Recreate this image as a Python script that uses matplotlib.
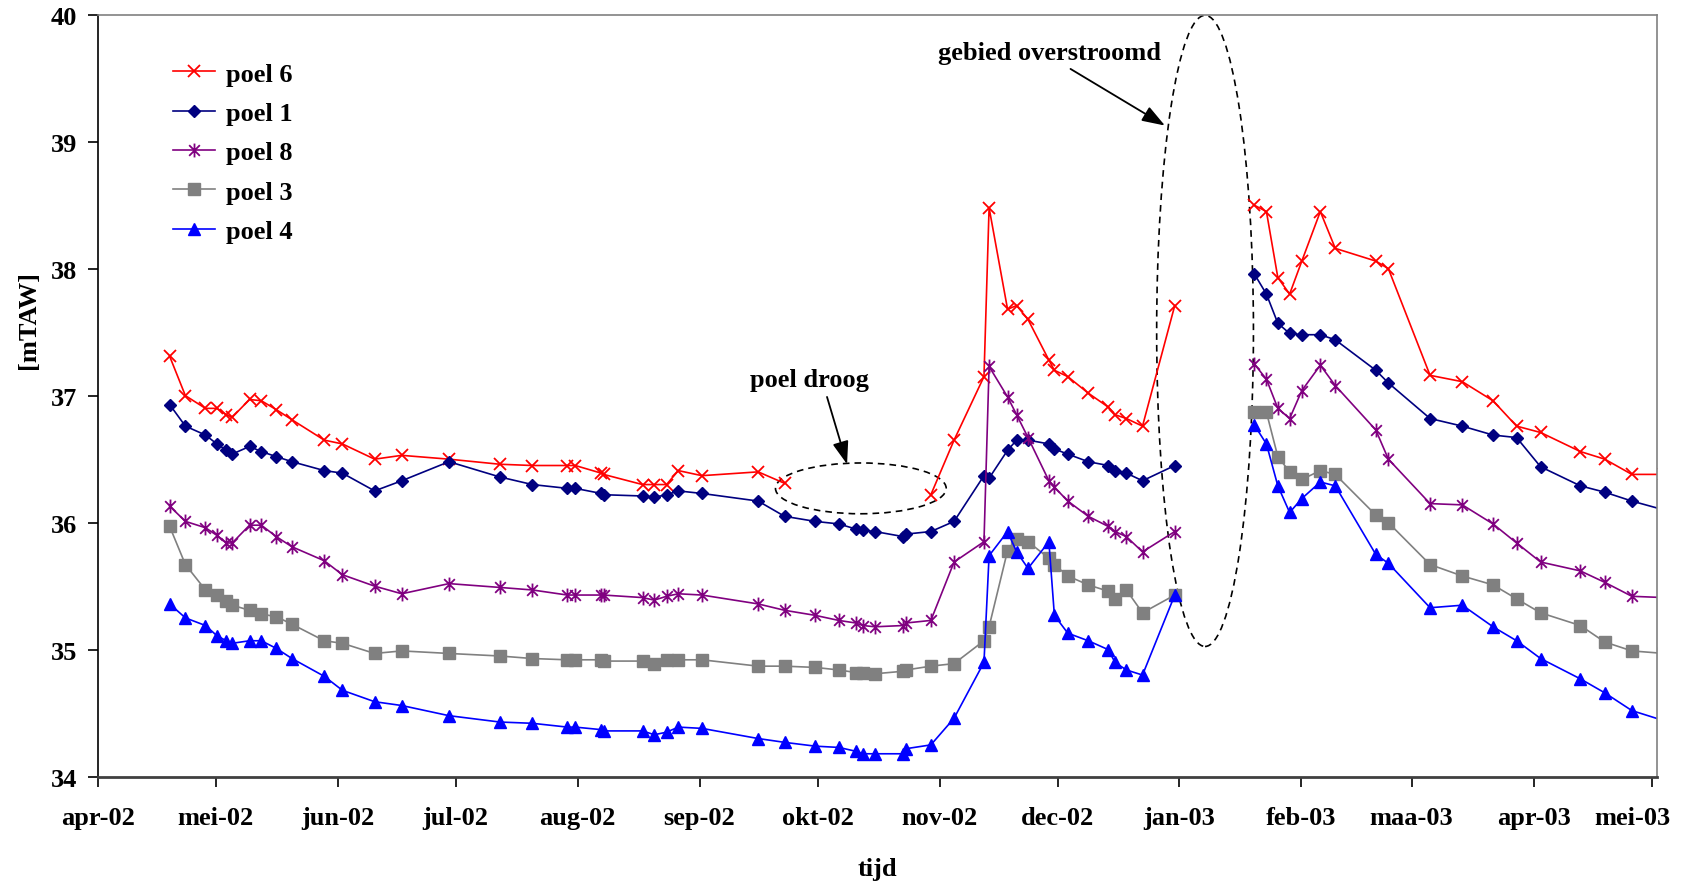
import numpy as np
import pandas as pd
import matplotlib
matplotlib.use("Agg")
import matplotlib.pyplot as plt
import matplotlib.dates as mdates
import matplotlib.transforms as mtransforms
from matplotlib.patches import Ellipse
from matplotlib.path import Path

plt.rcParams['font.family'] = ['Liberation Serif', 'DejaVu Serif']
plt.rcParams['font.weight'] = 'bold'

# meetdagen, in dagen na 1 april 2002 (NaN-rij = periode overstroomd)
dagen = [18.3, 22.3, 27.4, 30.3, 32.7, 34.2, 38.6, 41.6, 45.4, 49.4,
         57.6, 62.2, 70.4, 77.3, 89.3, 102.2, 110.5, 119.4, 121.4, 128.0,
         128.6, 138.5, 141.5, 144.6, 147.6, 153.6, 167.9, 174.6, 182.4, 188.4,
         192.7, 194.5, 197.6, 204.8, 205.5, 211.8, 217.7, 225.3, 226.6, 231.3,
         233.6, 236.5, 241.8, 243.2, 246.6, 251.8, 256.9, 258.6, 261.5, 265.6,
         273.8, 284.0, 294.0, 297.1, 300.0, 303.0, 306.1, 310.8, 314.6, 324.9,
         328.1, 338.7, 346.9, 354.7, 360.7, 366.8, 376.9, 383.1, 390.0, 398.2]

nan = np.nan
poel6 = [37.31, 37.00, 36.90, 36.90, 36.85, 36.83, 36.97, 36.96, 36.89, 36.81,
         36.65, 36.62, 36.50, 36.53, 36.50, 36.46, 36.45, 36.45, 36.45, 36.39,
         36.38, 36.30, 36.30, 36.30, 36.41, 36.37, 36.40, 36.31, nan, nan,
         nan, nan, nan, nan, nan, 36.22, 36.65, 37.15, 38.48, 37.68,
         37.71, 37.60, 37.28, 37.20, 37.15, 37.02, 36.91, 36.85, 36.82, 36.76,
         37.71, nan, 38.50, 38.45, 37.93, 37.80, 38.06, 38.45, 38.16, 38.06,
         38.00, 37.16, 37.11, 36.96, 36.76, 36.71, 36.56, 36.50, 36.38, 36.38]
poel1 = [36.93, 36.76, 36.69, 36.62, 36.57, 36.54, 36.60, 36.56, 36.52, 36.48,
         36.41, 36.39, 36.25, 36.33, 36.48, 36.36, 36.30, 36.27, 36.27, 36.23,
         36.22, 36.21, 36.20, 36.22, 36.25, 36.23, 36.17, 36.05, 36.01, 35.99,
         35.95, 35.94, 35.93, 35.89, 35.91, 35.93, 36.01, 36.37, 36.35, 36.57,
         36.65, 36.65, 36.62, 36.58, 36.54, 36.48, 36.45, 36.41, 36.39, 36.33,
         36.45, nan, 37.96, 37.80, 37.57, 37.49, 37.48, 37.48, 37.44, 37.20,
         37.10, 36.82, 36.76, 36.69, 36.67, 36.44, 36.29, 36.24, 36.17, 36.10]
poel8 = [36.13, 36.01, 35.96, 35.90, 35.84, 35.84, 35.98, 35.98, 35.89, 35.81,
         35.70, 35.59, 35.50, 35.44, 35.52, 35.49, 35.47, 35.43, 35.43, 35.43,
         35.43, 35.41, 35.39, 35.42, 35.44, 35.43, 35.36, 35.31, 35.27, 35.23,
         35.21, 35.19, 35.18, 35.19, 35.21, 35.23, 35.69, 35.85, 37.23, 36.99,
         36.85, 36.67, 36.33, 36.28, 36.17, 36.05, 35.97, 35.93, 35.89, 35.77,
         35.93, nan, 37.25, 37.13, 36.90, 36.82, 37.04, 37.24, 37.08, 36.73,
         36.50, 36.15, 36.14, 35.99, 35.84, 35.69, 35.62, 35.53, 35.42, 35.41]
poel3 = [35.97, 35.67, 35.47, 35.43, 35.38, 35.35, 35.31, 35.28, 35.26, 35.20,
         35.07, 35.05, 34.97, 34.99, 34.97, 34.95, 34.93, 34.92, 34.92, 34.92,
         34.91, 34.91, 34.89, 34.92, 34.92, 34.92, 34.87, 34.87, 34.86, 34.84,
         34.82, 34.82, 34.81, 34.83, 34.84, 34.87, 34.89, 35.07, 35.18, 35.78,
         35.87, 35.85, 35.72, 35.67, 35.58, 35.51, 35.46, 35.40, 35.47, 35.29,
         35.43, nan, 36.87, 36.87, 36.52, 36.40, 36.34, 36.41, 36.38, 36.06,
         36.00, 35.67, 35.58, 35.51, 35.40, 35.29, 35.19, 35.06, 34.99, 34.97]
poel4 = [35.36, 35.25, 35.19, 35.11, 35.07, 35.05, 35.07, 35.07, 35.01, 34.93,
         34.79, 34.68, 34.59, 34.56, 34.48, 34.43, 34.42, 34.39, 34.39, 34.37,
         34.36, 34.36, 34.33, 34.35, 34.39, 34.38, 34.30, 34.27, 34.24, 34.23,
         34.20, 34.18, 34.18, 34.18, 34.22, 34.25, 34.46, 34.90, 35.74, 35.93,
         35.77, 35.64, 35.85, 35.27, 35.13, 35.07, 35.00, 34.90, 34.84, 34.80,
         35.43, nan, 36.77, 36.62, 36.29, 36.08, 36.19, 36.32, 36.29, 35.75,
         35.68, 35.33, 35.35, 35.18, 35.07, 34.93, 34.77, 34.66, 34.52, 34.44]

maand_ticks = ['2002-04-01', '2002-05-01', '2002-06-01', '2002-07-01', '2002-08-01',
               '2002-09-01', '2002-10-01', '2002-11-01', '2002-12-01', '2003-01-01',
               '2003-02-01', '2003-03-01', '2003-04-01', '2003-05-01']
maand_labels = ['apr-02', 'mei-02', 'jun-02', 'jul-02', 'aug-02', 'sep-02', 'okt-02',
                'nov-02', 'dec-02', 'jan-03', 'feb-03', 'maa-03', 'apr-03', 'mei-03']

start = pd.Timestamp('2002-04-01')
datums = start + pd.to_timedelta(dagen, unit='D')

def dnum(d):
    return mdates.date2num(start + pd.Timedelta(days=d))

# excel "ster" marker: x met verticale streep
ster = Path([(-1, -1), (1, 1), (-1, 1), (1, -1), (0, -1.3), (0, 1.3)],
            [Path.MOVETO, Path.LINETO, Path.MOVETO, Path.LINETO, Path.MOVETO, Path.LINETO])

fig = plt.figure(figsize=(16.84, 8.87), dpi=100)
ax = fig.add_axes([0.058, 0.1233, 0.926, 0.859])

lw = 1.2
ax.plot(datums, poel6, color='#FF0000', lw=lw, marker='x', ms=9, mew=1.3, label='poel 6')
ax.plot(datums, poel1, color='#000080', lw=lw, marker='D', ms=6.5, label='poel 1')
ax.plot(datums, poel8, color='#800080', lw=lw, marker=ster, ms=10, mew=1.3, label='poel 8')
ax.plot(datums, poel3, color='#808080', lw=lw, marker='s', ms=8, label='poel 3')
ax.plot(datums, poel4, color='#0000FF', lw=lw, marker='^', ms=9, label='poel 4')

ax.set_xlim(dnum(0), dnum(396.4))
ax.set_ylim(34, 40)
ax.set_yticks([34, 35, 36, 37, 38, 39, 40])
ax.set_xticks(pd.to_datetime(maand_ticks))
ax.set_xticklabels(maand_labels)
ax.tick_params(axis='both', labelsize=19, direction='out', length=7, width=1.2, color='black')
ax.tick_params(axis='x', pad=14)
ax.tick_params(axis='y', pad=8)

# laatste maandlabel iets naar links, zoals in excel
laatste = ax.get_xticklabels()[-1]
laatste.set_transform(laatste.get_transform() +
                      mtransforms.ScaledTranslation(-0.19, 0, fig.dpi_scale_trans))

for s in ['top', 'right']:
    ax.spines[s].set_color('#808080')
    ax.spines[s].set_linewidth(1.2)
ax.spines['left'].set_color('black')
ax.spines['left'].set_linewidth(1.2)
ax.spines['bottom'].set_color('#404040')
ax.spines['bottom'].set_linewidth(2)

ax.set_xlabel('tijd', fontsize=19, fontweight='bold')
ax.xaxis.set_label_coords(0.50, -0.105)
ax.set_ylabel('[mTAW]', fontsize=19, fontweight='bold')
ax.yaxis.set_label_coords(-0.037, 0.6)

ax.legend(loc='upper left', bbox_to_anchor=(0.040, 0.955), frameon=False, fontsize=19,
          handlelength=1.6, handletextpad=0.4, labelspacing=0.6, borderpad=0)

# annotaties
dash = (0, (4, 3))
ax.add_patch(Ellipse((dnum(194.0), 36.27), 43.4, 0.40, fill=False, ec='black', lw=1.2, ls=dash))
ax.add_patch(Ellipse((dnum(281.5), 37.51), 24.6, 4.97, fill=False, ec='black', lw=1.2, ls=dash))

ax.text(dnum(181.0), 37.13, 'poel droog', fontsize=19, fontweight='bold', ha='center', va='center')
ax.annotate('', xy=(dnum(190.5), 36.46), xytext=(dnum(185.4), 36.99),
            arrowprops=dict(arrowstyle='-|>,head_length=1.0,head_width=0.35', color='black',
                            lw=1.3, mutation_scale=14, shrinkA=0, shrinkB=0))
ax.text(dnum(242.0), 39.705, 'gebied overstroomd', fontsize=19, fontweight='bold',
        ha='center', va='center')
ax.annotate('', xy=(dnum(271.3), 39.127), xytext=(dnum(247.3), 39.573),
            arrowprops=dict(arrowstyle='-|>,head_length=1.0,head_width=0.35', color='black',
                            lw=1.3, mutation_scale=14, shrinkA=0, shrinkB=0))

fig.savefig('out.png', dpi=100)
